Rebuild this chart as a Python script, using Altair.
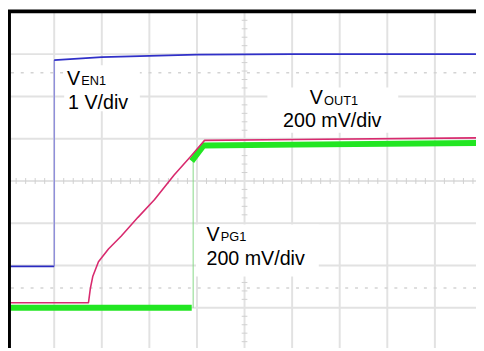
import altair as alt
import pandas as pd
import numpy as np

# ---- traces (x: time in divisions 0..10, y: divisions, screen centre = 0) ----
EN_LOW_T = [0.00, 1.00]
EN_LOW_V = [-2.02, -2.02]
EN_EDGE_T = [1.00, 1.00]
EN_EDGE_V = [-2.02, 2.86]
EN_HIGH_T = [1.00, 2.00, 3.00, 4.00, 6.00, 9.90]
EN_HIGH_V = [2.86, 2.93, 2.96, 2.99, 3.00, 3.00]

OUT_T = [0.00, 1.72, 1.76, 1.81, 1.93, 2.14, 2.41, 2.76, 3.11, 3.52, 3.89, 4.16, 6.06, 9.90]
OUT_V = [-2.88, -2.88, -2.54, -2.26, -1.91, -1.61, -1.30, -0.86, -0.44, 0.14, 0.61, 0.96, 0.98, 1.02]

PG_LOW_T = [0.00, 3.89]
PG_LOW_V = [-3.00, -3.00]
PG_EDGE_T = [3.92, 3.92]
PG_EDGE_V = [-3.00, 0.56]
PG_HIGH_T = [3.89, 4.14, 6.06, 9.90]
PG_HIGH_V = [0.47, 0.84, 0.86, 0.90]

# ---- graticule ----
GRID_X = [1, 2, 3, 4, 5, 6, 7, 8, 9]
GRID_Y = [-3, -2, -1, 0, 1, 2, 3]
DOT_Y = [2.56, -2.53]
TICK_X = [round(i / 5, 2) for i in range(1, 50) if i % 5]
TICK_Y = [round(i / 5, 2) for i in range(-19, 20) if i % 5]

# ---- label boxes & labels ----
BOX_X1 = [1.21, 5.48, 3.98]
BOX_X2 = [2.80, 8.23, 6.56]
BOX_Y1 = [2.74, 2.21, -1.03]
BOX_Y2 = [1.65, 1.14, -2.26]

MAIN_TXT = ["V", "1 V/div", "V", "200 mV/div", "V", "200 mV/div"]
MAIN_X = [1.27, 1.29, 6.37, 5.81, 4.20, 4.20]
MAIN_Y = [2.28, 1.70, 1.81, 1.27, -1.41, -1.99]
SUB_TXT = ["EN1", "OUT1", "PG1"]
SUB_X = [1.57, 6.67, 4.50]
SUB_Y = [2.26, 1.79, -1.43]

W, H = 476, 343
xs = alt.Scale(domain=[0.029, 9.864], nice=False, zero=False)
ys = alt.Scale(domain=[-3.953, 4.023], nice=False, zero=False)


def X(f):
    return alt.X(f, type="quantitative", scale=xs, axis=None)


def Y(f):
    return alt.Y(f, type="quantitative", scale=ys, axis=None)


def trace(t, v, color, width):
    df = pd.DataFrame({"t": t, "v": v, "i": list(range(len(t)))})
    return alt.Chart(df).mark_line(color=color, strokeWidth=width, clip=True,
                                   strokeJoin="round").encode(
        x=X("t"), y=Y("v"), order="i:Q")


grid_col = "#e2e2e2"
vgrid = alt.Chart(pd.DataFrame({"g": GRID_X})).mark_rule(color=grid_col, strokeWidth=2).encode(x=X("g"))
hgrid = alt.Chart(pd.DataFrame({"g": GRID_Y})).mark_rule(color=grid_col, strokeWidth=2).encode(y=Y("g"))
dots = alt.Chart(pd.DataFrame({"g": DOT_Y})).mark_rule(color="#d3d3d3", strokeWidth=1.5,
                                                        strokeDash=[3, 7]).encode(y=Y("g"))
tdfx = pd.DataFrame({"p": TICK_X, "a": -0.07, "b": 0.07})
ticks_x = alt.Chart(tdfx).mark_rule(color="#d0d0d0", strokeWidth=1).encode(
    x=X("p"), y=Y("a"), y2="b")
tdfy = pd.DataFrame({"p": TICK_Y, "a": 4.94, "b": 5.06})
ticks_y = alt.Chart(tdfy).mark_rule(color="#d0d0d0", strokeWidth=1).encode(
    y=Y("p"), x=X("a"), x2="b")

boxes = alt.Chart(pd.DataFrame({"x1": BOX_X1, "x2": BOX_X2, "y1": BOX_Y1, "y2": BOX_Y2})).mark_rect(
    color="white").encode(x=X("x1"), x2="x2", y=Y("y1"), y2="y2")

pg_low = trace(PG_LOW_T, PG_LOW_V, "#22e622", 6)
pg_edge = trace(PG_EDGE_T, PG_EDGE_V, "#86d886", 1)
pg_high = trace(PG_HIGH_T, PG_HIGH_V, "#22e622", 6)
vout = trace(OUT_T, OUT_V, "#d82a6e", 1.6)
ven_low = trace(EN_LOW_T, EN_LOW_V, "#2a2ac0", 2)
ven_edge = trace(EN_EDGE_T, EN_EDGE_V, "#6a6ad6", 1)
ven_high = trace(EN_HIGH_T, EN_HIGH_V, "#3030c8", 1.8)

main_txt = alt.Chart(pd.DataFrame({"x": MAIN_X, "y": MAIN_Y, "s": MAIN_TXT})).mark_text(
    font="Liberation Sans", fontSize=20, align="left", baseline="alphabetic", color="black").encode(
    x=X("x"), y=Y("y"), text="s:N")
sub_txt = alt.Chart(pd.DataFrame({"x": SUB_X, "y": SUB_Y, "s": SUB_TXT})).mark_text(
    font="Liberation Sans", fontSize=13, align="left", baseline="alphabetic", color="black").encode(
    x=X("x"), y=Y("y"), text="s:N")

one = pd.DataFrame({"a": [0]})
left_bar = alt.Chart(one).mark_rule(color="black", strokeWidth=4).encode(
    x=alt.value(1), y=alt.value(0), y2=alt.value(H))
top_bar = alt.Chart(one).mark_rule(color="black", strokeWidth=4).encode(
    y=alt.value(0.5), x=alt.value(0), x2=alt.value(W))

chart = alt.layer(
    vgrid, hgrid, dots, ticks_x, ticks_y, boxes,
    pg_low, pg_edge, pg_high, vout, ven_low, ven_edge, ven_high,
    main_txt, sub_txt, left_bar, top_bar,
).properties(
    width=W, height=H, padding=0, autosize=alt.AutoSizeParams(type="none"), background="white"
).configure_view(strokeWidth=0)

chart.save("out.html", embed_options={"renderer": "svg", "actions": False})
